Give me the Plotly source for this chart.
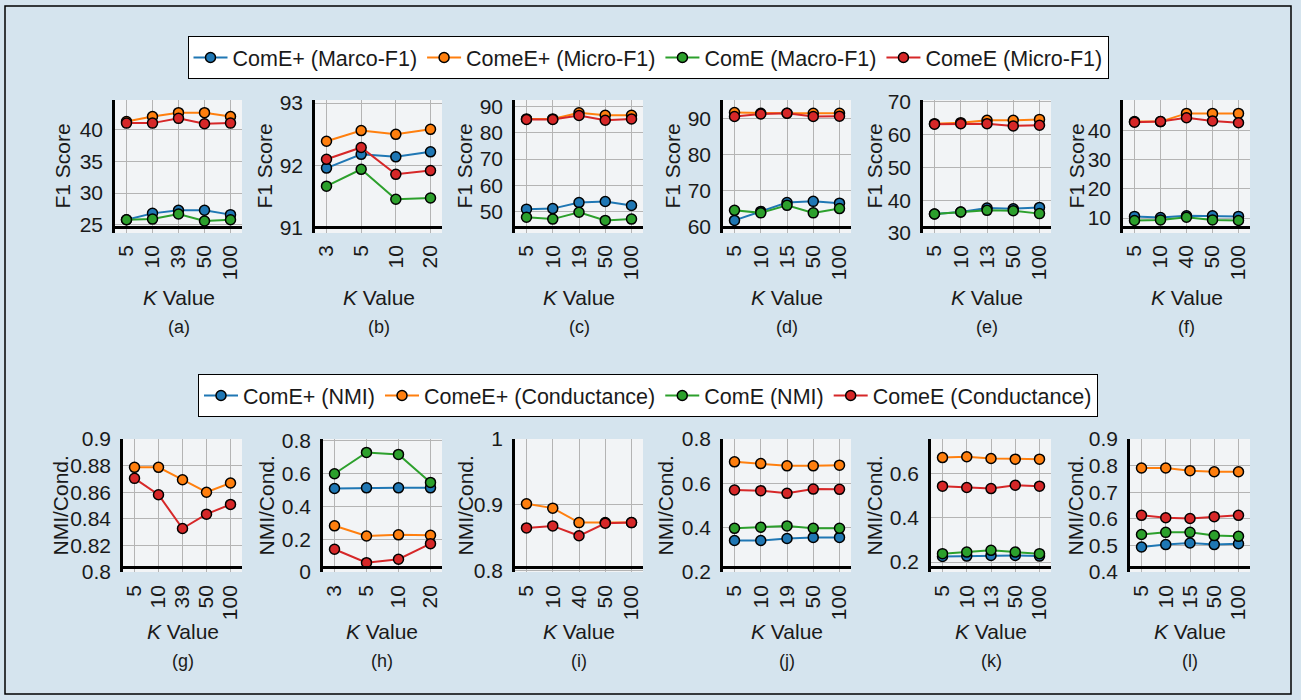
import plotly.graph_objects as go

W, H = 1301, 700

# ---------------- data ----------------
series_top = ["ComE+ (Marco-F1)", "ComeE+ (Micro-F1)", "ComE (Macro-F1)", "ComeE (Micro-F1)"]
series_bot = ["ComE+ (NMI)", "ComeE+ (Conductance)", "ComE (NMI)", "ComeE (Conductance)"]
colors = ["#1f77b4", "#ff7f0e", "#2ca02c", "#d62728"]

# (a)
a_k = ["5", "10", "39", "50", "100"]
a_comeplus_macro = [25.8, 26.8, 27.3, 27.3, 26.6]
a_comeplus_micro = [41.3, 42.1, 42.7, 42.7, 42.1]
a_come_macro = [25.8, 25.9, 26.7, 25.6, 25.8]
a_come_micro = [41.05, 41.05, 41.8, 40.95, 41.05]
a_yticks = [25, 30, 35, 40]

# (b)
b_k = ["3", "5", "10", "20"]
b_comeplus_macro = [91.96, 92.18, 92.14, 92.22]
b_comeplus_micro = [92.39, 92.56, 92.5, 92.58]
b_come_macro = [91.67, 91.94, 91.46, 91.48]
b_come_micro = [92.1, 92.29, 91.86, 91.92]
b_yticks = [91, 92, 93]

# (c)
c_k = ["5", "10", "19", "50", "100"]
c_comeplus_macro = [50.9, 51.1, 53.4, 53.8, 52.3]
c_comeplus_micro = [85.3, 85.3, 87.6, 86.7, 86.7]
c_come_macro = [47.8, 47.1, 49.7, 46.6, 47.1]
c_come_micro = [85.1, 85.1, 86.6, 84.8, 85.3]
c_yticks = [50, 60, 70, 80, 90]

# (d)
d_k = ["5", "10", "15", "50", "100"]
d_comeplus_macro = [61.6, 64.1, 66.6, 66.9, 66.4]
d_comeplus_micro = [91.6, 91.4, 91.4, 91.4, 91.4]
d_come_macro = [64.4, 63.7, 65.8, 63.7, 64.9]
d_come_micro = [90.5, 91.2, 91.4, 90.5, 90.6]
d_yticks = [60, 70, 80, 90]

# (e)
e_k = ["5", "10", "13", "50", "100"]
e_comeplus_macro = [35.8, 36.4, 37.6, 37.4, 37.8]
e_comeplus_micro = [63.3, 63.6, 64.3, 64.3, 64.6]
e_come_macro = [35.8, 36.4, 36.9, 36.8, 35.9]
e_come_micro = [63.1, 63.3, 63.3, 62.6, 62.8]
e_yticks = [30, 40, 50, 60, 70]

# (f)
f_k = ["5", "10", "40", "50", "100"]
f_comeplus_macro = [10.6, 10.2, 10.8, 10.8, 10.6]
f_comeplus_micro = [43.1, 43.1, 45.9, 45.9, 45.9]
f_come_macro = [9.2, 9.4, 10.3, 9.4, 9.2]
f_come_micro = [42.9, 43.1, 44.4, 43.3, 42.7]
f_yticks = [10, 20, 30, 40]

# (g)
g_k = ["5", "10", "39", "50", "100"]
g_comeplus_nmi = [None, None, None, None, None]
g_comeplus_cond = [0.8787, 0.8787, 0.8694, 0.860, 0.8669]
g_come_nmi = [None, None, None, None, None]
g_come_cond = [0.8704, 0.8581, 0.8327, 0.8435, 0.8508]
g_yticks = [0.8, 0.82, 0.84, 0.86, 0.88, 0.9]
g_yticktext = ["0.8", "0.82", "0.84", "0.86", "0.88", "0.9"]

# (h)
h_k = ["3", "5", "10", "20"]
h_comeplus_nmi = [0.51, 0.514, 0.514, 0.514]
h_comeplus_cond = [0.282, 0.22, 0.227, 0.224]
h_come_nmi = [0.60, 0.73, 0.718, 0.547]
h_come_cond = [0.139, 0.057, 0.078, 0.173]
h_yticks = [0, 0.2, 0.4, 0.6, 0.8]
h_yticktext = ["0", "0.2", "0.4", "0.6", "0.8"]

# (i)
i_k = ["5", "10", "40", "50", "100"]
i_comeplus_nmi = [None, None, None, None, None]
i_comeplus_cond = [0.9015, 0.895, 0.873, 0.873, 0.873]
i_come_nmi = [None, None, None, None, None]
i_come_cond = [0.865, 0.868, 0.853, 0.872, 0.873]
i_yticks = [0.8, 0.9, 1.0]
i_yticktext = ["0.8", "0.9", "1"]

# (j)
j_k = ["5", "10", "19", "50", "100"]
j_comeplus_nmi = [0.342, 0.342, 0.351, 0.356, 0.356]
j_comeplus_cond = [0.697, 0.689, 0.679, 0.679, 0.682]
j_come_nmi = [0.397, 0.402, 0.408, 0.397, 0.397]
j_come_cond = [0.570, 0.567, 0.555, 0.574, 0.573]
j_yticks = [0.2, 0.4, 0.6, 0.8]
j_yticktext = ["0.2", "0.4", "0.6", "0.8"]

# (k)
k_k = ["5", "10", "13", "50", "100"]
k_comeplus_nmi = [0.225, 0.227, 0.230, 0.230, 0.227]
k_comeplus_cond = [0.672, 0.676, 0.668, 0.665, 0.665]
k_come_nmi = [0.238, 0.245, 0.253, 0.245, 0.238]
k_come_cond = [0.543, 0.537, 0.532, 0.547, 0.543]
k_yticks = [0.2, 0.4, 0.6]
k_yticktext = ["0.2", "0.4", "0.6"]

# (l)
l_k = ["5", "10", "15", "50", "100"]
l_comeplus_nmi = [0.494, 0.503, 0.509, 0.503, 0.506]
l_comeplus_cond = [0.791, 0.791, 0.781, 0.777, 0.777]
l_come_nmi = [0.541, 0.549, 0.549, 0.537, 0.534]
l_come_cond = [0.613, 0.604, 0.601, 0.608, 0.613]
l_yticks = [0.4, 0.5, 0.6, 0.7, 0.8, 0.9]
l_yticktext = ["0.4", "0.5", "0.6", "0.7", "0.8", "0.9"]

# ---------------- layout geometry (pixels) ----------------
panels = [
    dict(lab="(a)", k=a_k, s=[a_comeplus_macro, a_comeplus_micro, a_come_macro, a_come_micro],
         yt=a_yticks, ytt=None, yr=[23.7, 44.7], x0=115, x1=242, ytx=62, row=0),
    dict(lab="(b)", k=b_k, s=[b_comeplus_macro, b_comeplus_micro, b_come_macro, b_come_micro],
         yt=b_yticks, ytt=None, yr=[90.92, 93.05], x0=315, x1=442, ytx=264, row=0),
    dict(lab="(c)", k=c_k, s=[c_comeplus_macro, c_comeplus_micro, c_come_macro, c_come_micro],
         yt=c_yticks, ytt=None, yr=[41.8, 92.5], x0=515, x1=643, ytx=464, row=0),
    dict(lab="(d)", k=d_k, s=[d_comeplus_macro, d_comeplus_micro, d_come_macro, d_come_micro],
         yt=d_yticks, ytt=None, yr=[58.1, 95.1], x0=723, x1=851, ytx=672, row=0),
    dict(lab="(e)", k=e_k, s=[e_comeplus_macro, e_comeplus_micro, e_come_macro, e_come_micro],
         yt=e_yticks, ytt=None, yr=[30.0, 70.5], x0=923, x1=1051, ytx=874, row=0),
    dict(lab="(f)", k=f_k, s=[f_comeplus_macro, f_comeplus_micro, f_come_macro, f_come_micro],
         yt=f_yticks, ytt=None, yr=[4.9, 50.5], x0=1123, x1=1250, ytx=1076, row=0),
    dict(lab="(g)", k=g_k, s=[g_comeplus_nmi, g_comeplus_cond, g_come_nmi, g_come_cond],
         yt=g_yticks, ytt=g_yticktext, yr=[0.8, 0.9], x0=123, x1=242, ytx=60, row=1),
    dict(lab="(h)", k=h_k, s=[h_comeplus_nmi, h_comeplus_cond, h_come_nmi, h_come_cond],
         yt=h_yticks, ytt=h_yticktext, yr=[0.0, 0.812], x0=323, x1=442, ytx=266, row=1),
    dict(lab="(i)", k=i_k, s=[i_comeplus_nmi, i_comeplus_cond, i_come_nmi, i_come_cond],
         yt=i_yticks, ytt=i_yticktext, yr=[0.798, 1.0], x0=515, x1=643, ytx=465, row=1),
    dict(lab="(j)", k=j_k, s=[j_comeplus_nmi, j_comeplus_cond, j_come_nmi, j_come_cond],
         yt=j_yticks, ytt=j_yticktext, yr=[0.2, 0.8], x0=723, x1=851, ytx=665, row=1),
    dict(lab="(k)", k=k_k, s=[k_comeplus_nmi, k_comeplus_cond, k_come_nmi, k_come_cond],
         yt=k_yticks, ytt=k_yticktext, yr=[0.155, 0.756], x0=931, x1=1051, ytx=874, row=1),
    dict(lab="(l)", k=l_k, s=[l_comeplus_nmi, l_comeplus_cond, l_come_nmi, l_come_cond],
         yt=l_yticks, ytt=l_yticktext, yr=[0.4, 0.9], x0=1130, x1=1250, ytx=1075, row=1),
]

rows = [
    dict(top=100, bot=233, axis=227, ktitle=297, lab=327, ytitle="F1 Score", names=series_top, legend="legend"),
    dict(top=439, bot=572, axis=567, ktitle=631, lab=661, ytitle="NMI/Cond.", names=series_bot, legend="legend2"),
]

FONT = "Liberation Sans, Arial, Helvetica, sans-serif"
BG = "#d5e4ee"
PLOTBG = "#f2f4f6"
GRID = "#b4b4b4"
TXT = "#1a1a1a"


def px(x):
    return x / W


def py(y):
    return 1 - y / H


fig = go.Figure()
layout = {}
annotations = []
legend_done = {0: False, 1: False}

for idx, p in enumerate(panels):
    n = idx + 1
    r = rows[p["row"]]
    xa = "x" if n == 1 else f"x{n}"
    ya = "y" if n == 1 else f"y{n}"
    nk = len(p["k"])
    width = p["x1"] - p["x0"]
    spacing = (width - 23) / (nk - 1)
    pad = 11.5 / spacing
    show = not legend_done[p["row"]]
    for si, vals in enumerate(p["s"]):
        fig.add_trace(go.Scatter(
            x=p["k"], y=vals, xaxis=xa, yaxis=ya, mode="lines+markers",
            name=r["names"][si], legend=r["legend"], showlegend=show,
            line=dict(color=colors[si], width=2),
            marker=dict(color=colors[si], size=10, line=dict(color="black", width=1.5)),
        ))
    legend_done[p["row"]] = True

    xkey = "xaxis" if n == 1 else f"xaxis{n}"
    ykey = "yaxis" if n == 1 else f"yaxis{n}"
    layout[xkey] = dict(
        domain=[px(p["x0"]), px(p["x1"])], anchor="free", position=py(r["axis"]),
        type="category", range=[-pad, nk - 1 + pad], tickangle=-90,
        tickmode="array", tickvals=p["k"], ticktext=p["k"],
        showgrid=True, gridcolor=GRID, gridwidth=1,
        showline=True, linecolor="black", linewidth=2.5,
        ticks="outside", ticklen=8, tickcolor="rgba(0,0,0,0)",
        tickfont=dict(family=FONT, size=21, color=TXT), zeroline=False,
        fixedrange=True, automargin=False,
    )
    ydict = dict(
        domain=[py(r["bot"]), py(r["top"])], anchor=xa,
        range=p["yr"], tickmode="array", tickvals=p["yt"],
        showgrid=True, gridcolor=GRID, gridwidth=1,
        showline=True, linecolor="black", linewidth=2.5,
        ticks="outside", ticklen=5, tickcolor="rgba(0,0,0,0)",
        tickfont=dict(family=FONT, size=21, color=TXT), zeroline=False,
        fixedrange=True, automargin=False,
    )
    if p["ytt"] is not None:
        ydict["ticktext"] = p["ytt"]
    layout[ykey] = ydict

    cx = (p["x0"] + p["x1"]) / 2
    annotations.append(dict(
        x=px(cx), y=py(r["ktitle"]), xref="paper", yref="paper", showarrow=False,
        text="<i>K</i> Value", font=dict(family=FONT, size=21, color=TXT),
        xanchor="center", yanchor="middle"))
    annotations.append(dict(
        x=px(cx), y=py(r["lab"]), xref="paper", yref="paper", showarrow=False,
        text=p["lab"], font=dict(family=FONT, size=18, color=TXT),
        xanchor="center", yanchor="middle"))
    annotations.append(dict(
        x=px(p["ytx"]), y=py((r["top"] + r["bot"]) / 2), xref="paper", yref="paper",
        showarrow=False, text=r["ytitle"], textangle=-90,
        font=dict(family=FONT, size=21, color=TXT),
        xanchor="center", yanchor="middle"))

legend_common = dict(
    orientation="h", xanchor="center", yanchor="top", x=px(648),
    bgcolor="white", bordercolor="black", borderwidth=1,
    font=dict(family=FONT, size=21.5, color=TXT), itemwidth=34,
    itemclick=False, itemdoubleclick=False,
)

fig.update_layout(
    width=W, height=H, margin=dict(l=0, r=0, t=0, b=0, autoexpand=False),
    paper_bgcolor=BG, plot_bgcolor=PLOTBG,
    showlegend=True,
    legend=dict(legend_common, y=py(36)),
    legend2=dict(legend_common, y=py(374)),
    annotations=annotations,
    shapes=[dict(type="rect", xref="paper", yref="paper",
                 x0=px(5), x1=px(1291), y0=py(694), y1=py(6),
                 line=dict(color="black", width=1.5), fillcolor="rgba(0,0,0,0)", layer="below")],
    **layout,
)

fig.write_html("out.html", config={"displayModeBar": False},
               post_script="document.body.style.margin='0';document.body.style.overflow='hidden';")
